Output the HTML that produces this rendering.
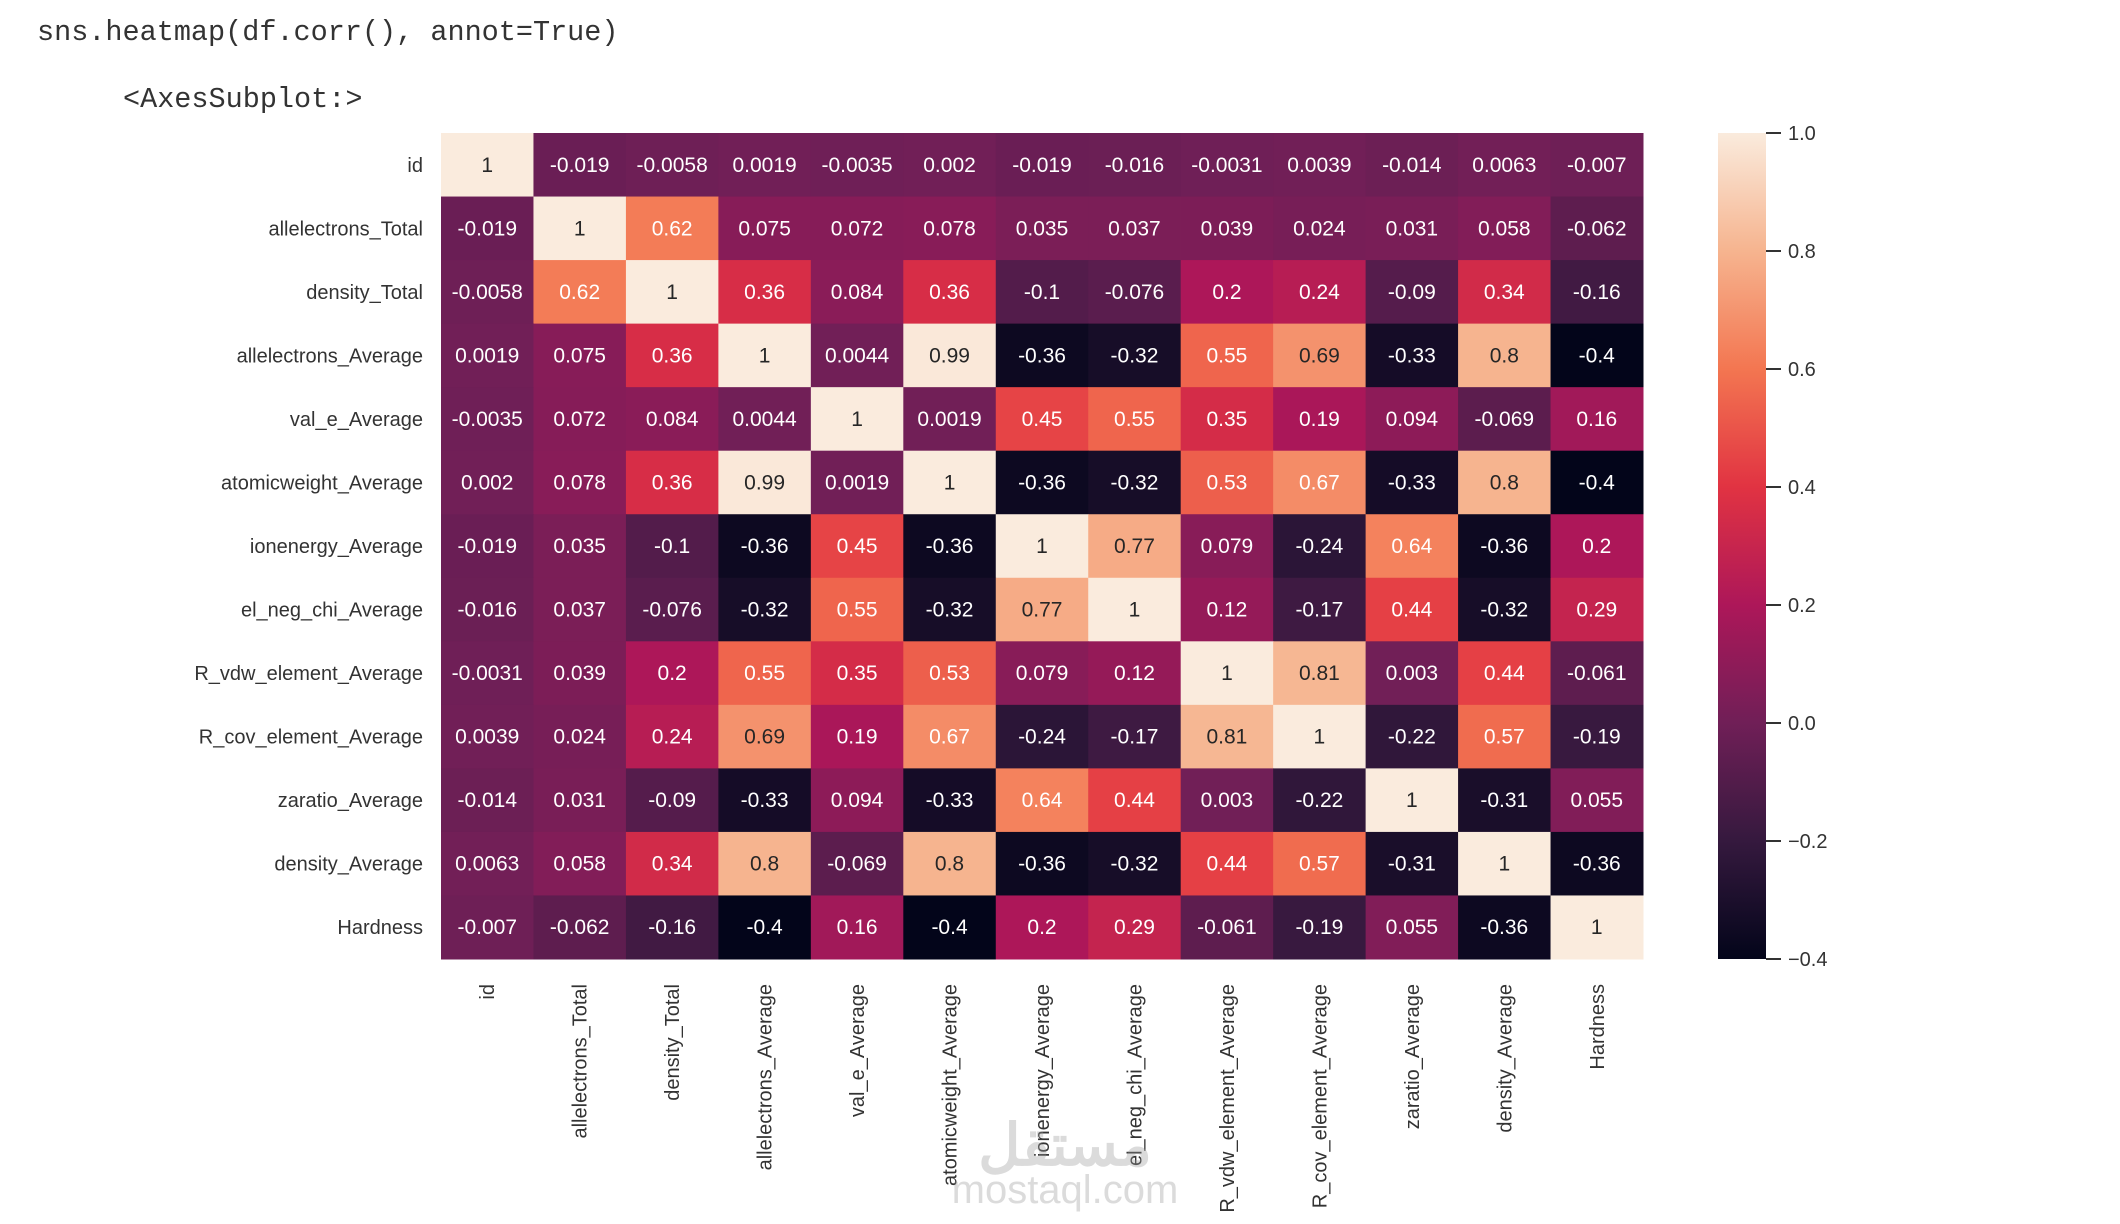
<!DOCTYPE html>
<html><head><meta charset="utf-8"><style>
html,body{margin:0;padding:0;background:#fff;width:2120px;height:1224px;overflow:hidden}
svg{display:block}
</style></head><body>
<svg id="chart" width="2120" height="1224" xmlns="http://www.w3.org/2000/svg">
<text x="37" y="40" font-family="Liberation Mono, monospace" font-size="28.5" fill="#333">sns.heatmap(df.corr(), annot=True)</text>
<text x="123" y="107" font-family="Liberation Mono, monospace" font-size="28.5" fill="#333">&lt;AxesSubplot:&gt;</text>
<defs><linearGradient id="cbgrad" x1="0" y1="1" x2="0" y2="0"></linearGradient></defs>
<g id="cells"></g>
<g id="ylabels"></g>
<g id="xlabels"></g>
<rect x="1718" y="133" width="48" height="826" fill="url(#cbgrad)"/>
<g id="cbticks"></g>
<g opacity="0.35" fill="#999" font-family="Liberation Sans, sans-serif">
<text x="1065" y="1165" font-size="58" text-anchor="middle" font-weight="bold">مستقل</text>
<text x="1065" y="1203" font-size="40" text-anchor="middle">mostaql.com</text>
</g>
</svg>
<script>
const labels = ["id","allelectrons_Total","density_Total","allelectrons_Average","val_e_Average","atomicweight_Average","ionenergy_Average","el_neg_chi_Average","R_vdw_element_Average","R_cov_element_Average","zaratio_Average","density_Average","Hardness"];
const row0 = [1,-0.019,-0.0058,0.0019,-0.0035,0.002,-0.019,-0.016,-0.0031,0.0039,-0.014,0.0063,-0.007];
const row1 = [-0.019,1,0.62,0.075,0.072,0.078,0.035,0.037,0.039,0.024,0.031,0.058,-0.062];
const row2 = [-0.0058,0.62,1,0.36,0.084,0.36,-0.1,-0.076,0.2,0.24,-0.09,0.34,-0.16];
const row3 = [0.0019,0.075,0.36,1,0.0044,0.99,-0.36,-0.32,0.55,0.69,-0.33,0.8,-0.4];
const row4 = [-0.0035,0.072,0.084,0.0044,1,0.0019,0.45,0.55,0.35,0.19,0.094,-0.069,0.16];
const row5 = [0.002,0.078,0.36,0.99,0.0019,1,-0.36,-0.32,0.53,0.67,-0.33,0.8,-0.4];
const row6 = [-0.019,0.035,-0.1,-0.36,0.45,-0.36,1,0.77,0.079,-0.24,0.64,-0.36,0.2];
const row7 = [-0.016,0.037,-0.076,-0.32,0.55,-0.32,0.77,1,0.12,-0.17,0.44,-0.32,0.29];
const row8 = [-0.0031,0.039,0.2,0.55,0.35,0.53,0.079,0.12,1,0.81,0.003,0.44,-0.061];
const row9 = [0.0039,0.024,0.24,0.69,0.19,0.67,-0.24,-0.17,0.81,1,-0.22,0.57,-0.19];
const row10 = [-0.014,0.031,-0.09,-0.33,0.094,-0.33,0.64,0.44,0.003,-0.22,1,-0.31,0.055];
const row11 = [0.0063,0.058,0.34,0.8,-0.069,0.8,-0.36,-0.32,0.44,0.57,-0.31,1,-0.36];
const row12 = [-0.007,-0.062,-0.16,-0.4,0.16,-0.4,0.2,0.29,-0.061,-0.19,0.055,-0.36,1];
const matrix = [row0,row1,row2,row3,row4,row5,row6,row7,row8,row9,row10,row11,row12];
const cbTicks = [-0.4,-0.2,0.0,0.2,0.4,0.6,0.8,1.0];
const vmin = -0.4, vmax = 1.0;

const NS="http://www.w3.org/2000/svg";
const L=441, T=133, W=1202, H=826;
const n=labels.length, cw=W/n, ch=H/n;
const xPos=i=>L+i*cw, yPos=i=>T+i*ch;
const rocket=[[0,[3,5,26]],[1/7,[53,25,62]],[2/7,[112,31,87]],[3/7,[173,23,89]],[4/7,[225,51,66]],[5/7,[243,118,81]],[6/7,[246,180,143]],[1,[250,235,221]]];
function cmap(v){let t=Math.max(0,Math.min(1,(v-vmin)/(vmax-vmin)));
 for(let k=1;k<rocket.length;k++){if(t<=rocket[k][0]){const a=rocket[k-1],b=rocket[k];const f=(t-a[0])/(b[0]-a[0]);return a[1].map((c,j)=>Math.round(c+(b[1][j]-c)*f));}}
 return rocket[rocket.length-1][1];}
function lum(c){const l=c.map(x=>{x/=255;return x<=0.03928?x/12.92:Math.pow((x+0.055)/1.055,2.4)});return 0.2126*l[0]+0.7152*l[1]+0.0722*l[2];}
function mk(tag,attrs,parent){const e=document.createElementNS(NS,tag);for(const k in attrs)e.setAttribute(k,attrs[k]);parent.appendChild(e);return e;}
const cells=document.getElementById('cells');
matrix.forEach((row,r)=>row.forEach((v,c)=>{
 const col=cmap(v);
 const rect=mk('rect',{x:xPos(c),y:yPos(r),width:cw+0.5,height:ch+0.5,fill:`rgb(${col})`},cells);
 
 
 const t=mk('text',{x:xPos(c)+cw/2,y:yPos(r)+ch/2+7,'text-anchor':'middle','font-family':'Liberation Sans, sans-serif','font-size':21,fill:lum(col)>0.408?'#262626':'#ffffff'},cells);
 
 
 t.textContent=String(v);
}));
const yl=document.getElementById('ylabels'), xl=document.getElementById('xlabels');
labels.forEach((lab,i)=>{
 const t=mk('text',{x:L-18,y:yPos(i)+ch/2+7,'text-anchor':'end','font-family':'Liberation Sans, sans-serif','font-size':20,fill:'#333'},yl);
 
 
 t.textContent=lab;
 const cx=xPos(i)+cw/2+7;
 const u=mk('text',{x:cx,y:984,'text-anchor':'end','font-family':'Liberation Sans, sans-serif','font-size':20,fill:'#333',transform:`rotate(-90 ${cx} 984)`},xl);
 
 
 u.textContent=lab;
});
const grad=document.getElementById('cbgrad');
rocket.forEach(s=>{mk('stop',{offset:s[0],'stop-color':`rgb(${s[1]})`},grad);});
const cb=document.getElementById('cbticks');
const cbY=v=>133+826*(1-(v-vmin)/(vmax-vmin));
cbTicks.forEach(v=>{
 const y=cbY(v);
 const ln=mk('line',{x1:1766,x2:1781,y1:y,y2:y,stroke:'#333','stroke-width':2},cb);
 
 
 const t=mk('text',{x:1788,y:y+7,'font-family':'Liberation Sans, sans-serif','font-size':20,fill:'#333'},cb);
 
 
 t.textContent=(v<0?'\u2212':'')+Math.abs(v).toFixed(1);
});
</script>
</body></html>
